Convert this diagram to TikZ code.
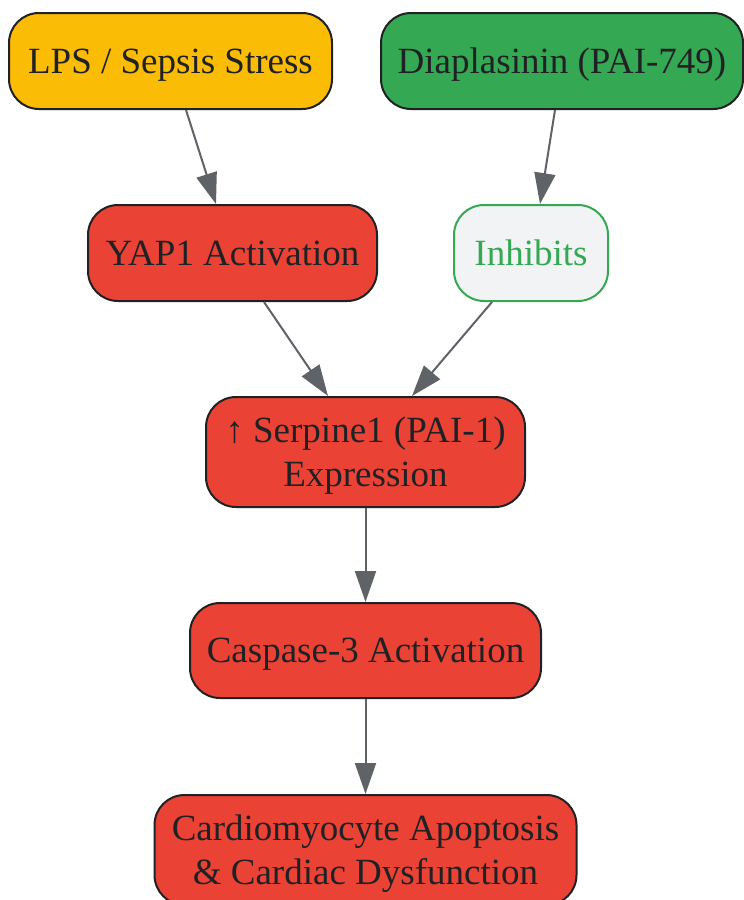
\documentclass[tikz,border=0pt]{standalone}
\usepackage{fontspec}
\setmainfont{Liberation Serif}
\usetikzlibrary{arrows.meta,positioning}

\definecolor{ink}{HTML}{202124}
\definecolor{edgegray}{HTML}{5F6368}
\definecolor{gyellow}{HTML}{FBBC05}
\definecolor{ggreen}{HTML}{34A853}
\definecolor{gred}{HTML}{EA4335}
\definecolor{glight}{HTML}{F1F3F4}

\begin{document}
\begin{tikzpicture}[x=0.5pt,y=-0.5pt,
	box/.style={draw=ink, line width=1pt, rounded corners=15pt, fill=#1, text=ink,
		align=center, inner sep=0pt, text depth=0pt, font=\fontsize{18.5}{22}\selectfont},
	flow/.style={draw=edgegray, line width=1pt, -{Triangle[length=15.5pt,width=10.5pt]}}]
	\useasboundingbox (0,0) rectangle (744,900);

	%top row
	\node[box=gyellow, minimum width=161.5pt, minimum height=48pt] (lps) at (170.5,61) {LPS / Sepsis Stress};
	\node[box=ggreen, minimum width=181pt, minimum height=48pt] (drug) at (562,61) {Diaplasinin (PAI-749)};

	%second row
	\node[box=gred, minimum width=144.5pt, minimum height=48pt] (yap) at (232.5,253) {YAP1 Activation};
	\node[box=glight, draw=ggreen, text=ggreen, minimum width=77pt, minimum height=48pt] (inhib) at (531,253) {Inhibits};

	%main chain
	\node[box=gred, minimum width=159.5pt, minimum height=55pt] (serp) at (365.5,452) {↑ Serpine1 (PAI-1)\\Expression};
	\node[box=gred, minimum width=175.5pt, minimum height=47.5pt] (casp) at (365.5,650.5) {Caspase-3 Activation};
	\node[box=gred, minimum width=211pt, minimum height=55pt] (cardio) at (365.5,850) {Cardiomyocyte Apoptosis\\\& Cardiac Dysfunction};

	%edges
	\foreach \src/\dx/\dst/\ex in {lps/15.5/yap/-16.5, drug/-7/inhib/9, yap/31.5/serp/-37.5, inhib/-39/serp/46.5, serp/0/casp/0, casp/0/cardio/0}{
		\draw[flow] ([shift={(\dx,0)}]\src.south) -- ([shift={(\ex,0)}]\dst.north);
	}

\end{tikzpicture}
\end{document}
